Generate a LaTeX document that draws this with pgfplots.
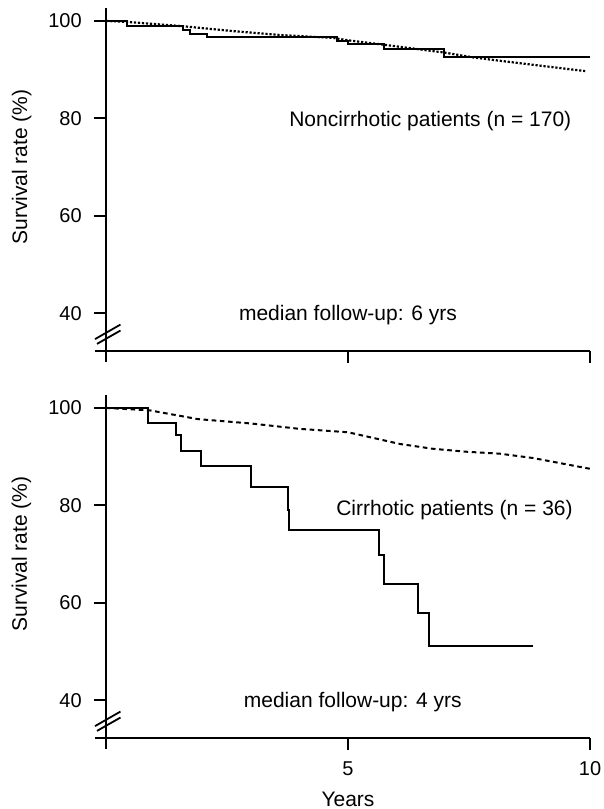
\documentclass[border=0pt]{standalone}
\usepackage{fontspec}
\setmainfont{Liberation Sans}
\usepackage{pgfplots}
\pgfplotsset{compat=1.18}
\usetikzlibrary{calc}

\newcommand{\txt}{\fontsize{10.5}{12.6}\selectfont}

\pgfplotsset{km/.style={
  scale only axis, width=242pt, height=171.6pt,
  xmin=0, xmax=10, ymin=32.3, ymax=102.75,
  axis x line*=bottom, axis y line*=left,
  axis line style={line width=1pt},
  tick style={line width=1pt, black},
  tick align=outside, major tick length=6pt,
  xtick={5,10}, ytick={40,60,80,100},
  clip=false,
  /pgf/number format/assume math mode=true,
  ticklabel style={font=\fontsize{10}{12}\selectfont},
  yticklabel style={xshift=-2.6pt},
  xticklabel style={yshift=-2.5pt},
  every axis plot/.append style={line width=1pt, black},
}}

% axis stubs, the // break mark and the y label
\newcommand{\axisbreak}{%
  \draw[line width=1pt] (axis cs:0,32.3) -- ++(-5.5pt,0pt);
  \draw[line width=1pt] (axis cs:0,32.3) -- ++(0pt,-5.5pt);
  \draw[line width=0.9pt] ($(axis cs:0,32.3)+(-5.5pt,5.8pt)$) -- ++(12.75pt,7.27pt);
  \draw[line width=0.9pt] ($(axis cs:0,32.3)+(-4.5pt,3.4pt)$) -- ++(11.75pt,6.7pt);
  \node[rotate=90, anchor=base, inner sep=0pt, font=\txt]
    at ($(axis cs:0,70)+(-39.5pt,0pt)$) {Survival rate (\%)};
}

\begin{document}
\begin{tikzpicture}
\useasboundingbox (0,0) rectangle (302pt,-404.5pt);

% noncirrhotic
\begin{axis}[km, at={(53pt,-175.35pt)}, anchor=south west, xticklabels={}]
\addplot[const plot] coordinates {
  (0,100) (0.43,99.0) (1.60,98.2) (1.74,97.3) (2.08,96.7) (4.78,95.9)
  (5.01,95.2) (5.75,94.2) (6.99,92.6) (10,92.6)};
\addplot[line width=1.1pt, dash pattern=on 1.1pt off 0.9pt] coordinates {
  (0,100) (0.43,99.8) (1.6,98.9) (2.63,97.9) (3.6,97.1) (4.7,96.5)
  (5.01,96.0) (5.75,95.1) (6.99,93.5) (7.59,92.5) (8.48,91.4) (9.9,89.7)};
\axisbreak
\node[anchor=base, inner sep=0pt, font=\txt] at (axis cs:6.7,78.4) {Noncirrhotic patients (n = 170)};
\node[anchor=base, inner sep=0pt, font=\txt] at (axis cs:5.0,38.4) {median follow-up: 6 yrs};
\end{axis}

% cirrhotic
\begin{axis}[km, at={(53pt,-368.85pt)}, anchor=south west]
\addplot[const plot] coordinates {
  (0,100) (0.87,96.9) (1.45,94.5) (1.55,91.1) (1.96,88.0) (2.99,83.7)
  (3.75,79.0) (3.79,74.9) (5.64,69.8) (5.74,63.9) (6.45,57.8) (6.67,51.1)
  (8.82,51.1)};
\addplot[line width=1pt, dash pattern=on 2.3pt off 1.8pt] coordinates {
  (0,100) (0.9,99.5) (1.9,97.7) (3.0,96.8) (4.0,95.7) (5.0,95.0) (5.45,94.0)
  (6.07,92.6) (6.76,91.6) (7.45,91.0) (8.14,90.6) (8.83,89.7) (9.52,88.4)
  (10,87.5)};
\axisbreak
\node[anchor=base, inner sep=0pt, font=\txt] at (axis cs:7.2,77.9) {Cirrhotic patients (n = 36)};
\node[anchor=base, inner sep=0pt, font=\txt] at (axis cs:5.1,38.4) {median follow-up: 4 yrs};
\node[anchor=base, inner sep=0pt, font=\txt] at ($(axis cs:5,32.3)+(0pt,-34.3pt)$) {Years};
\end{axis}
\end{tikzpicture}
\end{document}
